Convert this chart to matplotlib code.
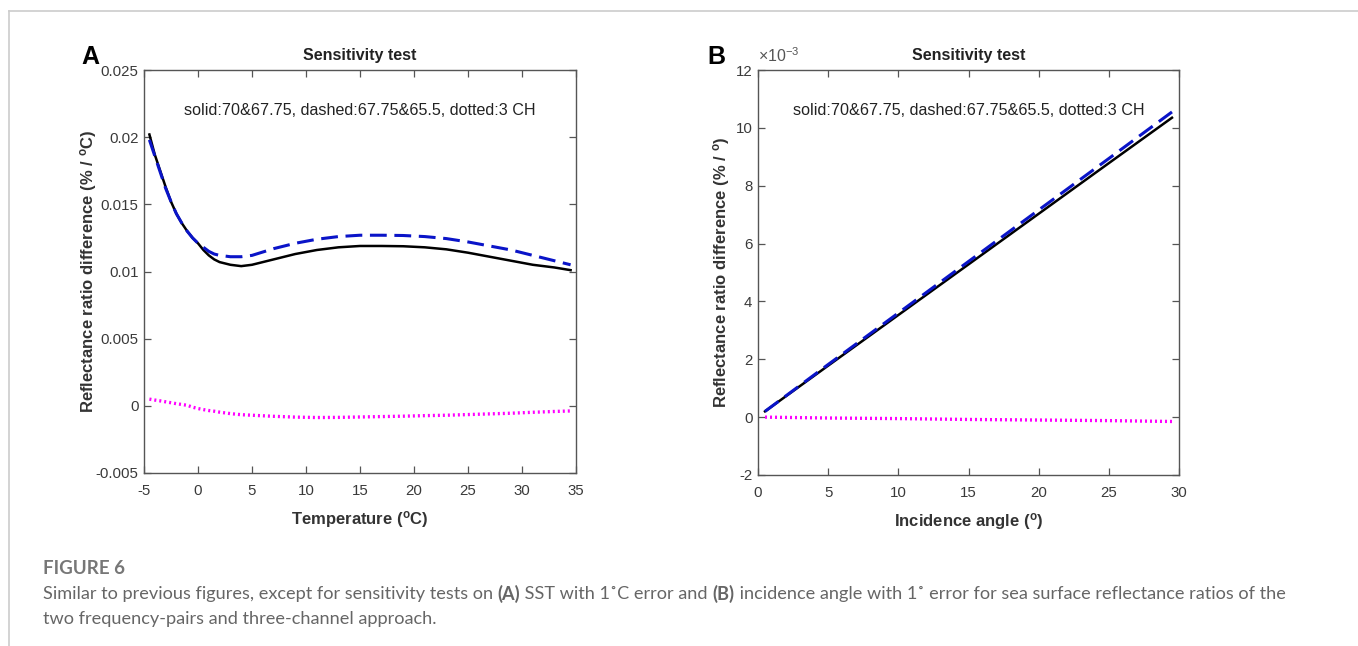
import matplotlib
matplotlib.use("Agg")
import matplotlib.pyplot as plt
from matplotlib.lines import Line2D
from matplotlib.ticker import FuncFormatter

plt.rcParams['font.family'] = ['Liberation Sans', 'DejaVu Sans']
plt.rcParams['axes.unicode_minus'] = False
plt.rcParams['mathtext.fontset'] = 'custom'
plt.rcParams['mathtext.rm'] = 'Liberation Sans'
plt.rcParams['mathtext.bf'] = 'Liberation Sans:bold'
plt.rcParams['mathtext.it'] = 'Liberation Sans:italic'

# panel A: SST sensitivity
temp = [-4.5, -4, -3.5, -3, -2.5, -2, -1.5, -1, -0.5, 0, 0.5, 1, 1.5, 2, 3, 4, 5,
        7, 9, 11, 13, 15, 17, 19, 21, 23, 25, 27, 29, 31, 33, 34.5]
sst_solid = [0.0202, 0.0187, 0.0175, 0.0163, 0.0152, 0.0143, 0.0136, 0.0130, 0.0125,
             0.0121, 0.0116, 0.0112, 0.0109, 0.0107, 0.0105, 0.0104, 0.0105,
             0.0109, 0.0113, 0.0116, 0.0118, 0.0119, 0.0119, 0.01188, 0.0118, 0.01165,
             0.0114, 0.0111, 0.0108, 0.0105, 0.0103, 0.0101]
sst_dashed = [0.0198, 0.0186, 0.0174, 0.0162, 0.0152, 0.0143, 0.0136, 0.0130, 0.0125,
              0.0121, 0.0118, 0.0115, 0.0113, 0.0112, 0.0111, 0.0111, 0.0112,
              0.0117, 0.0121, 0.0124, 0.0126, 0.0127, 0.0127, 0.01268, 0.0126, 0.01245,
              0.0122, 0.0119, 0.0116, 0.0112, 0.0108, 0.0105]
sst_dotted = [0.0005, 0.00043, 0.00037, 0.0003, 0.00023, 0.00016, 0.0001, 0.00004, -0.0001,
              -0.0002, -0.00028, -0.00035, -0.0004, -0.00047, -0.00058, -0.00066, -0.0007,
              -0.00078, -0.00084, -0.00087, -0.00086, -0.00083, -0.0008, -0.00077, -0.00073,
              -0.0007, -0.00065, -0.0006, -0.00055, -0.00048, -0.00042, -0.00038]

# panel B: incidence angle sensitivity
angle = [0.5, 5, 10, 15, 20, 25, 29.5]
ang_solid = [0.2e-3, 1.78e-3, 3.53e-3, 5.28e-3, 7.03e-3, 8.78e-3, 10.35e-3]
ang_dashed = [0.2e-3, 1.82e-3, 3.6e-3, 5.38e-3, 7.16e-3, 8.94e-3, 10.55e-3]
ang_dotted = [0.0, -0.03e-3, -0.05e-3, -0.08e-3, -0.1e-3, -0.12e-3, -0.15e-3]

note = 'solid:70&67.75, dashed:67.75&65.5, dotted:3 CH'
tcol = '#333333'

fig = plt.figure(figsize=(13.58, 6.46), dpi=100)

# page frame lines
fig.add_artist(Line2D([9 / 1358, 9 / 1358], [0, 1 - 11 / 646], color='#cccccc', lw=1.2))
fig.add_artist(Line2D([9 / 1358, 1], [1 - 11 / 646, 1 - 11 / 646], color='#cccccc', lw=1.2))

axA = fig.add_axes([144 / 1358, 1 - 473 / 646, 432 / 1358, 403 / 646])
axB = fig.add_axes([758 / 1358, 1 - 475 / 646, 421 / 1358, 405 / 646])


def style(ax):
    for s in ax.spines.values():
        s.set_color('#555555')
        s.set_linewidth(1.0)
    ax.tick_params(direction='in', top=True, right=True, length=5, width=0.9,
                   color='#555555', labelsize=10.8, labelcolor='#3a3a3a')
    ax.tick_params(axis='y', pad=4)
    ax.tick_params(axis='x', pad=8)


axA.plot(temp, sst_solid, color='black', lw=1.8)
axA.plot(temp, sst_dashed, color='#0a14c8', lw=2.2, dashes=(5.5, 2.5))
axA.plot(temp, sst_dotted, color='#ff00ff', lw=2.4, linestyle=(0, (0.6, 0.9)))
axA.set_xlim(-5, 35)
axA.set_ylim(-0.005, 0.025)
axA.set_xticks(range(-5, 36, 5))
axA.set_yticks([-0.005, 0, 0.005, 0.01, 0.015, 0.02, 0.025])
axA.yaxis.set_major_formatter(FuncFormatter(lambda v, p: '%g' % round(v, 4)))
style(axA)
axA.set_title('Sensitivity test', fontsize=11.5, fontweight='bold', color='#222222', pad=7)
axA.set_xlabel(r'Temperature ($^{\mathbf{o}}$C)', fontsize=12, fontweight='bold', color=tcol, labelpad=8)
axA.set_ylabel(r'Reflectance ratio difference (% / $^{\mathbf{o}}$C)', fontsize=12,
               fontweight='bold', color=tcol)
axA.yaxis.set_label_coords(-0.105, 0.5)
axA.text(0.5, 0.9, note, transform=axA.transAxes, ha='center', va='center',
         fontsize=11.6, color='#222222')

axB.plot(angle, ang_solid, color='black', lw=1.8)
axB.plot(angle, ang_dashed, color='#0a14c8', lw=2.2, dashes=(5.5, 2.5))
axB.plot(angle, ang_dotted, color='#ff00ff', lw=2.4, linestyle=(0, (0.6, 0.9)))
axB.set_xlim(0, 30)
axB.set_ylim(-2e-3, 12e-3)
axB.set_xticks(range(0, 31, 5))
axB.set_yticks([v * 1e-3 for v in range(-2, 13, 2)])
axB.yaxis.set_major_formatter(FuncFormatter(lambda v, p: '%g' % round(v * 1e3, 3)))
style(axB)
axB.set_title('Sensitivity test', fontsize=11.5, fontweight='bold', color='#222222', pad=7)
axB.set_xlabel(r'Incidence angle ($^{\mathbf{o}}$)', fontsize=12, fontweight='bold', color=tcol, labelpad=8)
axB.set_ylabel(r'Reflectance ratio difference (% / $^{\mathbf{o}}$)', fontsize=12,
               fontweight='bold', color=tcol)
axB.yaxis.set_label_coords(-0.062, 0.5)
axB.text(0.0, 1.012, r'$\times$10$^{-3}$', transform=axB.transAxes, ha='left', va='bottom',
         fontsize=11.5, color='#555555')
axB.text(0.5, 0.9, note, transform=axB.transAxes, ha='center', va='center',
         fontsize=11.6, color='#222222')

fig.text(81 / 1358, 1 - 57 / 646, 'A', fontsize=18, fontweight='bold', va='center')
fig.text(707 / 1358, 1 - 57 / 646, 'B', fontsize=18, fontweight='bold', va='center')

# caption, drawn piece by piece so (A) and (B) can be bold
ccol = '#666666'
cfont = ['Lato', 'DejaVu Sans']
fig.text(43 / 1358, 1 - 568 / 646, 'FIGURE 6', fontsize=13.5, fontweight='bold',
         family=cfont, color='#777777', va='center')

renderer = fig.canvas.get_renderer()
pieces = [('Similar to previous figures, except for sensitivity tests on ', 'normal'),
          ('(A)', 'bold'), (' SST with 1˚C error and ', 'normal'), ('(B)', 'bold'),
          (' incidence angle with 1˚ error for sea surface reflectance ratios of the', 'normal')]
x = 43 / 1358
for txt, w in pieces:
    t = fig.text(x, 1 - 594 / 646, txt, fontsize=13.1, fontweight=w, family=cfont,
                 color=ccol, va='center')
    bb = t.get_window_extent(renderer)
    x += bb.width / fig.bbox.width
fig.text(43 / 1358, 1 - 619 / 646, 'two frequency-pairs and three-channel approach.',
         fontsize=13.1, family=cfont, color=ccol, va='center')

fig.savefig('out.png', dpi=100)
